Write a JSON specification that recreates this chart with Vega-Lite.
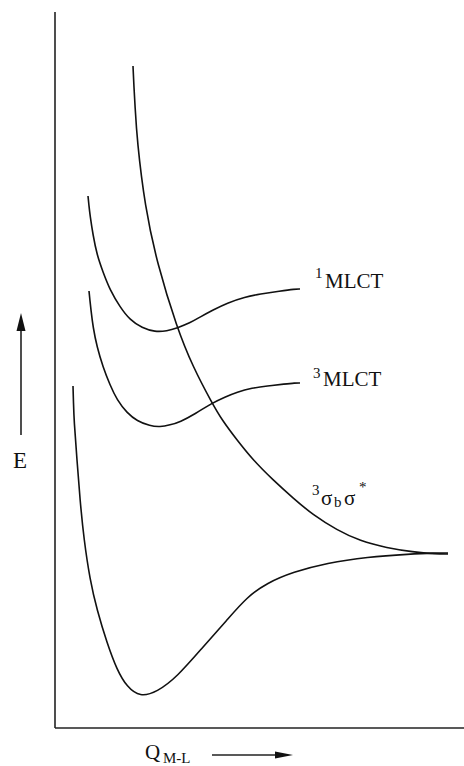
{
  "$schema": "https://vega.github.io/schema/vega-lite/v6.json",
  "width": 464,
  "height": 766,
  "padding": 0,
  "autosize": {"type": "none"},
  "background": "white",
  "config": {"view": {"stroke": null}},
  "datasets": {
    "curves": [
      {"curve": "sigma", "Q": 78, "E": 662},
      {"curve": "sigma", "Q": 79, "E": 640},
      {"curve": "sigma", "Q": 80, "E": 623},
      {"curve": "sigma", "Q": 82, "E": 588},
      {"curve": "sigma", "Q": 90, "E": 521},
      {"curve": "sigma", "Q": 102, "E": 465},
      {"curve": "sigma", "Q": 122, "E": 400},
      {"curve": "sigma", "Q": 138, "E": 361},
      {"curve": "sigma", "Q": 157, "E": 325},
      {"curve": "sigma", "Q": 167, "E": 308},
      {"curve": "sigma", "Q": 182, "E": 288},
      {"curve": "sigma", "Q": 198, "E": 268},
      {"curve": "sigma", "Q": 218, "E": 248},
      {"curve": "sigma", "Q": 238, "E": 230},
      {"curve": "sigma", "Q": 258, "E": 213},
      {"curve": "sigma", "Q": 282, "E": 198},
      {"curve": "sigma", "Q": 305, "E": 187},
      {"curve": "sigma", "Q": 332, "E": 180},
      {"curve": "sigma", "Q": 358, "E": 176},
      {"curve": "sigma", "Q": 380, "E": 174},
      {"curve": "sigma", "Q": 393, "E": 174},
      {"curve": "ground", "Q": 18, "E": 342},
      {"curve": "ground", "Q": 18.5, "E": 325},
      {"curve": "ground", "Q": 19, "E": 308},
      {"curve": "ground", "Q": 22, "E": 268},
      {"curve": "ground", "Q": 25, "E": 228},
      {"curve": "ground", "Q": 29, "E": 188},
      {"curve": "ground", "Q": 35, "E": 148},
      {"curve": "ground", "Q": 42, "E": 118},
      {"curve": "ground", "Q": 52, "E": 85},
      {"curve": "ground", "Q": 62, "E": 58},
      {"curve": "ground", "Q": 72, "E": 41},
      {"curve": "ground", "Q": 85, "E": 31},
      {"curve": "ground", "Q": 102, "E": 36},
      {"curve": "ground", "Q": 122, "E": 51},
      {"curve": "ground", "Q": 148, "E": 81},
      {"curve": "ground", "Q": 172, "E": 108},
      {"curve": "ground", "Q": 192, "E": 131},
      {"curve": "ground", "Q": 212, "E": 145},
      {"curve": "ground", "Q": 238, "E": 156},
      {"curve": "ground", "Q": 272, "E": 165},
      {"curve": "ground", "Q": 312, "E": 171},
      {"curve": "ground", "Q": 355, "E": 174},
      {"curve": "ground", "Q": 380, "E": 175},
      {"curve": "ground", "Q": 393, "E": 175},
      {"curve": "s1", "Q": 33, "E": 532},
      {"curve": "s1", "Q": 34, "E": 522},
      {"curve": "s1", "Q": 35, "E": 513},
      {"curve": "s1", "Q": 38, "E": 493},
      {"curve": "s1", "Q": 42, "E": 473},
      {"curve": "s1", "Q": 48, "E": 456},
      {"curve": "s1", "Q": 55, "E": 438},
      {"curve": "s1", "Q": 65, "E": 421},
      {"curve": "s1", "Q": 75, "E": 408},
      {"curve": "s1", "Q": 87, "E": 400},
      {"curve": "s1", "Q": 100, "E": 396},
      {"curve": "s1", "Q": 112, "E": 397},
      {"curve": "s1", "Q": 122, "E": 400},
      {"curve": "s1", "Q": 135, "E": 405},
      {"curve": "s1", "Q": 145, "E": 411},
      {"curve": "s1", "Q": 158, "E": 418},
      {"curve": "s1", "Q": 172, "E": 425},
      {"curve": "s1", "Q": 190, "E": 431},
      {"curve": "s1", "Q": 205, "E": 434},
      {"curve": "s1", "Q": 225, "E": 437},
      {"curve": "s1", "Q": 240, "E": 439},
      {"curve": "s1", "Q": 245, "E": 439},
      {"curve": "t1", "Q": 34, "E": 437},
      {"curve": "t1", "Q": 35, "E": 427},
      {"curve": "t1", "Q": 36, "E": 418},
      {"curve": "t1", "Q": 38, "E": 401},
      {"curve": "t1", "Q": 42, "E": 381},
      {"curve": "t1", "Q": 48, "E": 361},
      {"curve": "t1", "Q": 55, "E": 343},
      {"curve": "t1", "Q": 62, "E": 328},
      {"curve": "t1", "Q": 72, "E": 315},
      {"curve": "t1", "Q": 82, "E": 307},
      {"curve": "t1", "Q": 95, "E": 302},
      {"curve": "t1", "Q": 105, "E": 301},
      {"curve": "t1", "Q": 115, "E": 303},
      {"curve": "t1", "Q": 125, "E": 306},
      {"curve": "t1", "Q": 140, "E": 314},
      {"curve": "t1", "Q": 157, "E": 325},
      {"curve": "t1", "Q": 170, "E": 331},
      {"curve": "t1", "Q": 182, "E": 336},
      {"curve": "t1", "Q": 197, "E": 340},
      {"curve": "t1", "Q": 212, "E": 342},
      {"curve": "t1", "Q": 230, "E": 344},
      {"curve": "t1", "Q": 240, "E": 345},
      {"curve": "t1", "Q": 245, "E": 345}
    ],
    "axes": [
      {"Q": 0, "Q2": 0, "E": 0, "E2": 716},
      {"Q": 0, "Q2": 409, "E": 0, "E2": 0},
      {"Q": -34, "Q2": -34, "E": 293, "E2": 398},
      {"Q": 157, "Q2": 222, "E": -27, "E2": -27}
    ],
    "heads": [
      {"dir": "up", "Q": -34, "E": 406},
      {"dir": "right", "Q": 229, "E": -27}
    ],
    "bigText": [
      {"label": "MLCT", "Q": 270, "E": 440},
      {"label": "MLCT", "Q": 268, "E": 342},
      {"label": "σ", "Q": 266, "E": 223},
      {"label": "σ", "Q": 289, "E": 223},
      {"label": "Q", "Q": 90, "E": -31}
    ],
    "smallText": [
      {"label": "1", "Q": 260, "E": 450},
      {"label": "3", "Q": 258, "E": 350},
      {"label": "3", "Q": 257, "E": 233},
      {"label": "b", "Q": 279, "E": 221},
      {"label": "*", "Q": 304, "E": 236},
      {"label": "M-L", "Q": 108, "E": -35}
    ],
    "axisText": [
      {"label": "E", "Q": -42, "E": 260}
    ]
  },
  "layer": [
    {
      "data": {"name": "axes"},
      "mark": {"type": "rule", "color": "#222", "strokeWidth": 1.6},
      "encoding": {
        "x": {"field": "Q", "type": "quantitative", "scale": {"domain": [-55, 409]}, "axis": null},
        "x2": {"field": "Q2"},
        "y": {"field": "E", "type": "quantitative", "scale": {"domain": [-38, 728]}, "axis": null},
        "y2": {"field": "E2"}
      }
    },
    {
      "data": {"name": "curves"},
      "mark": {"type": "line", "color": "#111", "strokeWidth": 1.6, "interpolate": "basis"},
      "encoding": {
        "x": {"field": "Q", "type": "quantitative", "scale": {"domain": [-55, 409]}, "axis": null},
        "y": {"field": "E", "type": "quantitative", "scale": {"domain": [-38, 728]}, "axis": null},
        "detail": {"field": "curve"}
      }
    },
    {
      "data": {"name": "heads"},
      "mark": {"type": "point", "filled": true, "color": "#111", "opacity": 1, "size": 324},
      "encoding": {
        "x": {"field": "Q", "type": "quantitative", "scale": {"domain": [-55, 409]}, "axis": null},
        "y": {"field": "E", "type": "quantitative", "scale": {"domain": [-38, 728]}, "axis": null},
        "shape": {
          "field": "dir",
          "type": "nominal",
          "scale": {"domain": ["up", "right"], "range": ["M0,-1L0.5,1L-0.5,1Z", "M1,0L-1,-0.4L-1,0.4Z"]},
          "legend": null
        }
      }
    },
    {
      "data": {"name": "bigText"},
      "mark": {"type": "text", "font": "Liberation Serif, Times New Roman, serif", "fontSize": 21, "align": "left", "baseline": "alphabetic", "color": "#111"},
      "encoding": {
        "x": {"field": "Q", "type": "quantitative", "scale": {"domain": [-55, 409]}, "axis": null},
        "y": {"field": "E", "type": "quantitative", "scale": {"domain": [-38, 728]}, "axis": null},
        "text": {"field": "label"}
      }
    },
    {
      "data": {"name": "smallText"},
      "mark": {"type": "text", "font": "Liberation Serif, Times New Roman, serif", "fontSize": 15, "align": "left", "baseline": "alphabetic", "color": "#111"},
      "encoding": {
        "x": {"field": "Q", "type": "quantitative", "scale": {"domain": [-55, 409]}, "axis": null},
        "y": {"field": "E", "type": "quantitative", "scale": {"domain": [-38, 728]}, "axis": null},
        "text": {"field": "label"}
      }
    },
    {
      "data": {"name": "axisText"},
      "mark": {"type": "text", "font": "Liberation Serif, Times New Roman, serif", "fontSize": 23, "align": "left", "baseline": "alphabetic", "color": "#111"},
      "encoding": {
        "x": {"field": "Q", "type": "quantitative", "scale": {"domain": [-55, 409]}, "axis": null},
        "y": {"field": "E", "type": "quantitative", "scale": {"domain": [-38, 728]}, "axis": null},
        "text": {"field": "label"}
      }
    }
  ]
}
